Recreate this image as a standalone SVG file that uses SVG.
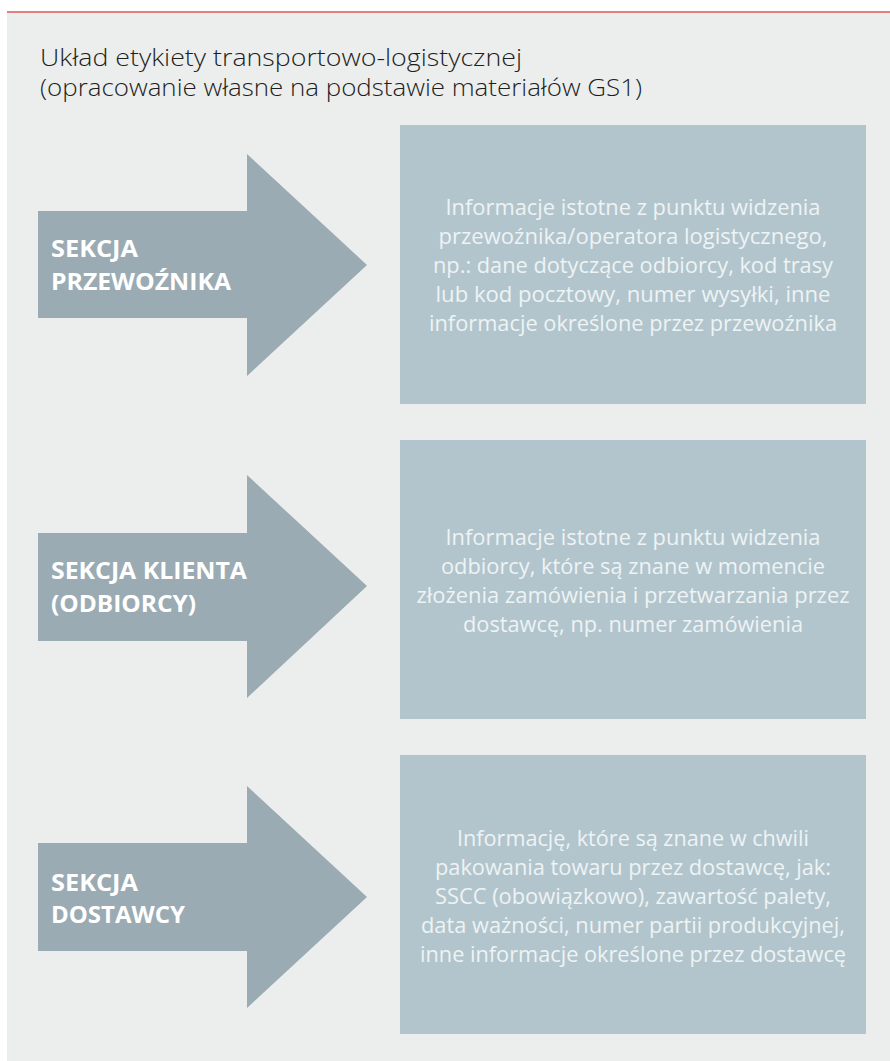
<svg xmlns="http://www.w3.org/2000/svg" width="890" height="1061" viewBox="0 0 890 1061">
<style>
.title{font-family:"Open Sans","Liberation Sans",sans-serif;font-size:24px;font-weight:300;fill:#1e1e1e}
.arrow{fill:#9aabb3}
.box{fill:#b2c5cd}
.lbl{font-family:"Open Sans","Liberation Sans",sans-serif;font-size:23px;font-weight:700;fill:#ffffff}
.info{font-family:"Open Sans","Liberation Sans",sans-serif;font-size:21px;fill:#eef3f4;text-anchor:middle}
</style>
<rect x="0" y="0" width="890" height="1061" fill="#ffffff"/>
<rect x="7" y="12" width="883" height="1049" fill="#eceeed"/>
<rect x="7" y="11" width="883" height="2" fill="#e08080"/>
<g id="title">
<text class="title" x="40" y="66" textLength="482" lengthAdjust="spacingAndGlyphs">Układ etykiety transportowo-logistycznej</text>
<text class="title" x="40" y="96" textLength="602" lengthAdjust="spacingAndGlyphs">(opracowanie własne na podstawie materiałów GS1)</text>
</g>
<g id="connectors">
<path class="arrow" d="M38 211 H247 V154 L367 265 L247 376 V318 H38 Z"/>
<path class="arrow" d="M38 533 H247 V475 L367 586 L247 698 V641 H38 Z"/>
<path class="arrow" d="M38 843 H247 V786 L367 897 L247 1008 V951 H38 Z"/>
</g>
<g id="sekcja-przewoznika">
<text class="lbl" x="51" y="257" textLength="87" lengthAdjust="spacingAndGlyphs">SEKCJA</text>
<text class="lbl" x="51" y="290" textLength="180" lengthAdjust="spacingAndGlyphs">PRZEWOŹNIKA</text>
</g>
<g id="sekcja-klienta">
<text class="lbl" x="51" y="579" textLength="196" lengthAdjust="spacingAndGlyphs">SEKCJA KLIENTA</text>
<text class="lbl" x="51" y="612" textLength="145" lengthAdjust="spacingAndGlyphs">(ODBIORCY)</text>
</g>
<g id="sekcja-dostawcy">
<text class="lbl" x="51" y="891" textLength="87" lengthAdjust="spacingAndGlyphs">SEKCJA</text>
<text class="lbl" x="51" y="923" textLength="134" lengthAdjust="spacingAndGlyphs">DOSTAWCY</text>
</g>
<g id="info-przewoznik">
<rect class="box" x="400" y="125" width="466" height="279"/>
<text class="info" x="633" y="215" textLength="375" lengthAdjust="spacingAndGlyphs">Informacje istotne z punktu widzenia</text>
<text class="info" x="633" y="244" textLength="389" lengthAdjust="spacingAndGlyphs">przewoźnika/operatora logistycznego,</text>
<text class="info" x="633" y="273" textLength="400" lengthAdjust="spacingAndGlyphs">np.: dane dotyczące odbiorcy, kod trasy</text>
<text class="info" x="633" y="302" textLength="395" lengthAdjust="spacingAndGlyphs">lub kod pocztowy, numer wysyłki, inne</text>
<text class="info" x="633" y="331" textLength="408" lengthAdjust="spacingAndGlyphs">informacje określone przez przewoźnika</text>
</g>
<g id="info-klient">
<rect class="box" x="400" y="440" width="466" height="279"/>
<text class="info" x="633" y="545" textLength="375" lengthAdjust="spacingAndGlyphs">Informacje istotne z punktu widzenia</text>
<text class="info" x="633" y="574" textLength="384" lengthAdjust="spacingAndGlyphs">odbiorcy, które są znane w momencie</text>
<text class="info" x="633" y="603" textLength="433" lengthAdjust="spacingAndGlyphs">złożenia zamówienia i przetwarzania przez</text>
<text class="info" x="633" y="632" textLength="340" lengthAdjust="spacingAndGlyphs">dostawcę, np. numer zamówienia</text>
</g>
<g id="info-dostawca">
<rect class="box" x="400" y="755" width="466" height="279"/>
<text class="info" x="633" y="846" textLength="352" lengthAdjust="spacingAndGlyphs">Informację, które są znane w chwili</text>
<text class="info" x="633" y="875" textLength="396" lengthAdjust="spacingAndGlyphs">pakowania towaru przez dostawcę, jak:</text>
<text class="info" x="633" y="904" textLength="396" lengthAdjust="spacingAndGlyphs">SSCC (obowiązkowo), zawartość palety,</text>
<text class="info" x="633" y="933" textLength="424" lengthAdjust="spacingAndGlyphs">data ważności, numer partii produkcyjnej,</text>
<text class="info" x="633" y="962" textLength="426" lengthAdjust="spacingAndGlyphs">inne informacje określone przez dostawcę</text>
</g>
</svg>
